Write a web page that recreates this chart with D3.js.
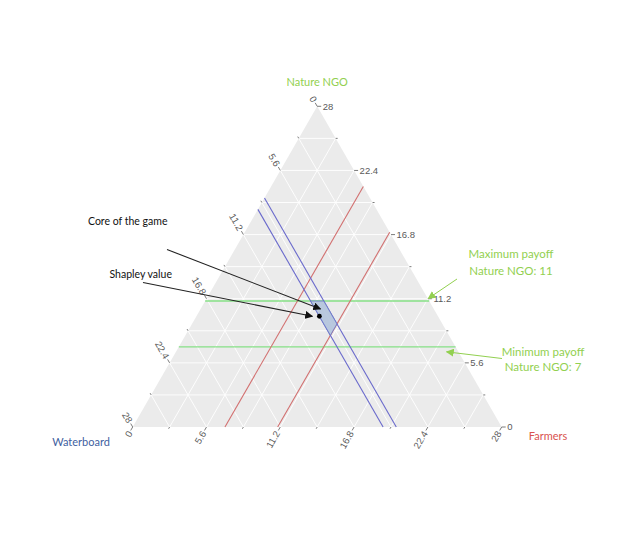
<!DOCTYPE html>
<html>
<head>
<meta charset="utf-8">
<script src="https://cdn.jsdelivr.net/npm/d3@7"></script>
<style>
  body { margin: 0; background: #fff; }
  svg { display: block; }
</style>
</head>
<body>
<div id="chart"></div>
<script>
'use strict';

// ternary plot: Farmers / Waterboard / Nature NGO, total payoff 28

var total = 28;
var majorTicks = [0, 5.6, 11.2, 16.8, 22.4, 28];
var minorTicks = [2.8, 8.4, 14, 19.6, 25.2];
var gridValues = [2.8, 5.6, 8.4, 11.2, 14, 16.8, 19.6, 22.4, 25.2];

var waterboardLines = [8, 9];    // blue
var farmersLines    = [7, 11];   // red
var natureLines     = [11, 7];   // green (max / min payoff)

// core of the game (F, W, N)
var corePoints = [
  [8, 9, 11],
  [9, 8, 11],
  [11, 8, 9],
  [11, 9, 8]
];
var shapley = [9.33, 9, 9.67];
var coreArrowTarget = [9.1, 8.6, 10.3];

var colors = {
    bg        :  '#ebebeb'
  , grid      :  '#ffffff'
  , tick      :  '#5a5a5a'
  , nature    :  '#92d050'
  , natureLn  :  '#86e086'
  , farmers   :  '#d9534f'
  , farmersLn :  '#d27070'
  , water     :  '#3f5f9f'
  , waterLn   :  '#6a6acc'
  , coreFill  :  '#b3c3dd'
  , coreLine  :  '#6a78c8'
}

var width = 640, height = 533;

var x = d3.scaleLinear().domain([0, total]).range([132.7, 501.7]);
var y = d3.scaleLinear().domain([0, total]).range([427, 106.3]);

// (farmers, waterboard, nature) -> [px, py]
function proj (f, w, n) {
  return [x(f + n / 2), y(n)];
}

var svg = d3.select('#chart')
  .append('svg')
  .attr('width', width)
  .attr('height', height);

var line = d3.line();

// background triangle
svg.append('path')
  .attr('d', line([proj(0, total, 0), proj(total, 0, 0), proj(0, 0, total)]) + 'Z')
  .style('fill', colors.bg);

// grid
var grid = svg.append('g')
  .style('stroke', colors.grid)
  .style('stroke-width', '0.9px')
  .style('fill', 'none');

gridValues.forEach(function (v) {
  grid.append('path').attr('d', line([proj(0, total - v, v), proj(total - v, 0, v)]));
  grid.append('path').attr('d', line([proj(v, total - v, 0), proj(v, 0, total - v)]));
  grid.append('path').attr('d', line([proj(0, v, total - v), proj(total - v, v, 0)]));
});

// ticks + labels
var tickG = svg.append('g')
  .style('stroke', colors.tick)
  .style('stroke-width', '0.8px');
var labelG = svg.append('g')
  .style('font-family', '"Liberation Sans", Arial, sans-serif')
  .style('font-size', '9.5px')
  .style('fill', colors.tick);

var cos60 = 0.5, sin60 = Math.sqrt(3) / 2;

function addTick (p, dx, dy, len) {
  tickG.append('line')
    .attr('x1', p[0]).attr('y1', p[1])
    .attr('x2', p[0] + dx * len).attr('y2', p[1] + dy * len);
}

// nature (right edge)
majorTicks.forEach(function (n) {
  var p = proj(total - n, 0, n);
  addTick(p, 1, 0, 4);
  labelG.append('text')
    .attr('x', p[0] + 5.5).attr('y', p[1])
    .attr('dy', '0.35em')
    .text(n);
});
minorTicks.forEach(function (n) { addTick(proj(total - n, 0, n), 1, 0, 2); });

// waterboard (left edge)
majorTicks.forEach(function (w) {
  var p = proj(0, w, total - w);
  addTick(p, -cos60, -sin60, 4);
  var lx = p[0] - cos60 * 5.5, ly = p[1] - sin60 * 5.5;
  labelG.append('text')
    .attr('transform', 'translate(' + lx + ',' + ly + ') rotate(60)')
    .attr('text-anchor', 'end')
    .attr('dy', '0.35em')
    .text(w);
});
minorTicks.forEach(function (w) { addTick(proj(0, w, total - w), -cos60, -sin60, 2); });

// farmers (bottom edge)
majorTicks.forEach(function (f) {
  var p = proj(f, total - f, 0);
  addTick(p, -cos60, sin60, 4);
  var lx = p[0] - cos60 * 5.5, ly = p[1] + sin60 * 5.5;
  labelG.append('text')
    .attr('transform', 'translate(' + lx + ',' + ly + ') rotate(-60)')
    .attr('text-anchor', 'end')
    .attr('dy', '0.35em')
    .text(f);
});
minorTicks.forEach(function (f) { addTick(proj(f, total - f, 0), -cos60, sin60, 2); });

// constraint lines
var lines = svg.append('g').style('fill', 'none').style('stroke-width', '1.1px');

natureLines.forEach(function (n) {
  lines.append('path')
    .attr('d', line([proj(0, total - n, n), proj(total - n, 0, n)]))
    .style('stroke', colors.natureLn)
    .style('stroke-width', '1.4px');
});
farmersLines.forEach(function (f) {
  lines.append('path')
    .attr('d', line([proj(f, total - f, 0), proj(f, 0, total - f)]))
    .style('stroke', colors.farmersLn);
});
waterboardLines.forEach(function (w) {
  lines.append('path')
    .attr('d', line([proj(0, w, total - w), proj(total - w, w, 0)]))
    .style('stroke', colors.waterLn);
});

// core
svg.append('path')
  .attr('d', line(corePoints.map(function (d) { return proj(d[0], d[1], d[2]); })) + 'Z')
  .style('fill', colors.coreFill)
  .style('fill-opacity', 0.9)
  .style('stroke', colors.coreLine)
  .style('stroke-width', '0.8px');

// shapley value
var sp = proj(shapley[0], shapley[1], shapley[2]);
svg.append('circle')
  .attr('cx', sp[0]).attr('cy', sp[1]).attr('r', 2.4)
  .style('fill', '#000');

// axis titles
var titles = svg.append('g')
  .style('font-family', 'Lato, "Open Sans", sans-serif')
  .style('font-size', '11px');

titles.append('text')
  .attr('x', proj(0, 0, total)[0]).attr('y', 86)
  .attr('text-anchor', 'middle')
  .style('fill', colors.nature)
  .text('Nature NGO');
titles.append('text')
  .attr('x', 81).attr('y', 446)
  .attr('text-anchor', 'middle')
  .style('fill', colors.water)
  .text('Waterboard');
titles.append('text')
  .attr('x', 548).attr('y', 440)
  .attr('text-anchor', 'middle')
  .style('fill', colors.farmers)
  .text('Farmers');

// arrow heads
var defs = svg.append('defs');
function marker (id, color, size) {
  defs.append('marker')
    .attr('id', id)
    .attr('viewBox', '0 0 10 10')
    .attr('refX', 9).attr('refY', 5)
    .attr('markerWidth', size).attr('markerHeight', size)
    .attr('markerUnits', 'userSpaceOnUse')
    .attr('orient', 'auto')
    .append('path')
    .attr('d', 'M0,0 L10,5 L0,10 Z')
    .style('fill', color);
}
marker('arrow-black', '#111', 8);
marker('arrow-green', colors.nature, 8);

function arrow (from, to, color, id, w) {
  svg.append('line')
    .attr('x1', from[0]).attr('y1', from[1])
    .attr('x2', to[0]).attr('y2', to[1])
    .style('stroke', color)
    .style('stroke-width', w)
    .attr('marker-end', 'url(#' + id + ')');
}

var cp = proj(coreArrowTarget[0], coreArrowTarget[1], coreArrowTarget[2]);
arrow([167, 249.5], cp, '#222', 'arrow-black', '1.1px');
arrow([143, 282.5], [sp[0] - 7, sp[1]], '#222', 'arrow-black', '1.1px');

var maxEnd = proj(total - natureLines[0], 0, natureLines[0]);
var minEnd = proj(total - natureLines[1], 0, natureLines[1]);
arrow([457, 279], [maxEnd[0] - 1, maxEnd[1] - 2.5], colors.nature, 'arrow-green', '1px');
arrow([502, 358.5], [minEnd[0] - 9, minEnd[1] + 5], colors.nature, 'arrow-green', '1px');

// annotations
var notes = svg.append('g')
  .style('font-family', 'Lato, "Open Sans", sans-serif');

notes.append('text')
  .attr('x', 88).attr('y', 225)
  .style('font-size', '10.5px')
  .style('fill', '#111')
  .text('Core of the game');
notes.append('text')
  .attr('x', 109.5).attr('y', 277.5)
  .style('font-size', '10.5px')
  .style('fill', '#111')
  .text('Shapley value');

var green = notes.append('g')
  .style('font-size', '11.5px')
  .style('fill', colors.nature)
  .attr('text-anchor', 'middle');
green.append('text').attr('x', 511).attr('y', 258).text('Maximum payoff');
green.append('text').attr('x', 511).attr('y', 274.5).text('Nature NGO: 11');
green.append('text').attr('x', 543).attr('y', 355.5).text('Minimum payoff');
green.append('text').attr('x', 543).attr('y', 371).text('Nature NGO: 7');
</script>
</body>
</html>
